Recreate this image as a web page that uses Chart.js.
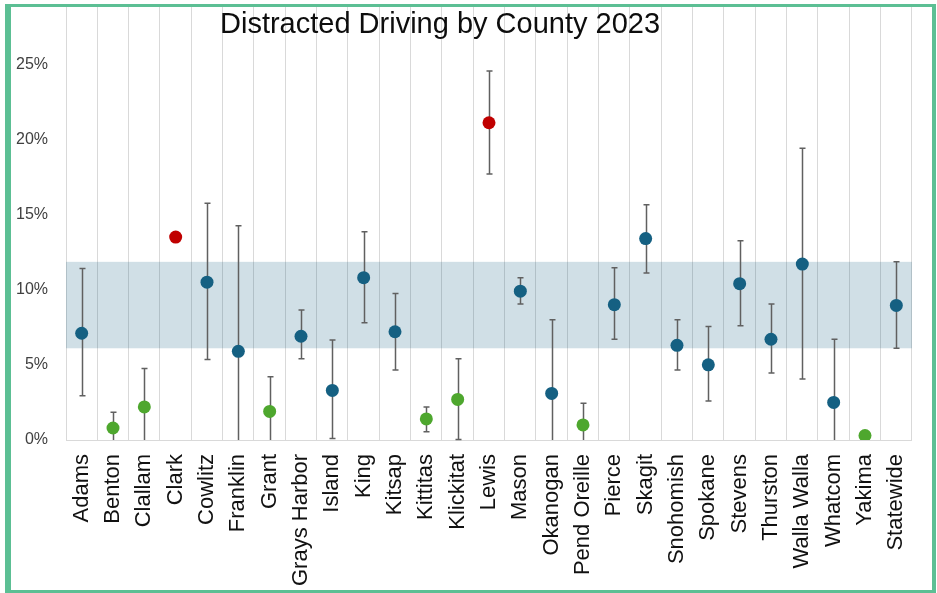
<!DOCTYPE html>
<html>
<head>
<meta charset="utf-8">
<script src="https://cdn.jsdelivr.net/npm/chart.js@4"></script>
<style>
  html, body { margin: 0; padding: 0; background: #fff; }
  #wrap { position: relative; width: 937px; height: 593px; }
  #frame {
    position: absolute; left: 5px; top: 4px; width: 931px; height: 589px;
    box-sizing: border-box; border-style: solid; border-color: #5CBF94;
    border-width: 3px 4px 3px 6px; pointer-events: none;
  }
</style>
</head>
<body>
<div id="wrap">
  <canvas id="chart" width="937" height="593"></canvas>
  <div id="frame"></div>
</div>
<script>
// Distracted driving rate (%) by county, with 95% confidence limits
const counties = ['Adams', 'Benton', 'Clallam', 'Clark', 'Cowlitz', 'Franklin', 'Grant',
  'Grays Harbor', 'Island', 'King', 'Kitsap', 'Kittitas', 'Klickitat', 'Lewis', 'Mason',
  'Okanogan', 'Pend Oreille', 'Pierce', 'Skagit', 'Snohomish', 'Spokane', 'Stevens',
  'Thurston', 'Walla Walla', 'Whatcom', 'Yakima', 'Statewide'];

const rates = [7.1, 0.8, 2.2, 13.5, 10.5, 5.9, 1.9, 6.9, 3.3, 10.8, 7.2, 1.4, 2.7, 21.1,
  9.9, 3.1, 1.0, 9.0, 13.4, 6.3, 5.0, 10.4, 6.7, 11.7, 2.5, 0.3, 8.95];

const lower = [2.95, 0, 0, 13.25, 5.35, 0, 0, 5.4, 0.1, 7.8, 4.65, 0.55, 0.03, 17.7,
  9.05, 0, 0, 6.7, 11.1, 4.65, 2.6, 7.6, 4.45, 4.05, 0, 0, 6.1];

const upper = [11.4, 1.85, 4.75, 13.75, 15.75, 14.25, 4.2, 8.65, 6.65, 13.85, 9.75, 2.2,
  5.4, 24.55, 10.8, 8.0, 2.45, 11.45, 15.65, 8.0, 7.55, 13.25, 9.05, 19.4, 6.7, 0.55, 11.85];

// comparison with the statewide rate
const status = ['avg', 'low', 'low', 'high', 'avg', 'avg', 'low', 'avg', 'avg', 'avg', 'avg',
  'low', 'low', 'high', 'avg', 'avg', 'low', 'avg', 'avg', 'avg', 'avg', 'avg', 'avg', 'avg',
  'avg', 'low', 'avg'];

const yTicks = [0, 5, 10, 15, 20, 25];

const palette = { avg: '#156082', low: '#4EA72E', high: '#C00000' };
const stateIdx = counties.indexOf('Statewide');

// statewide confidence band + whiskers, drawn under the points
const errorBars = {
  id: 'errorBars',
  beforeDatasetsDraw(chart) {
    const { ctx, chartArea, scales: { x, y } } = chart;
    const bandTop = y.getPixelForValue(upper[stateIdx]);
    const bandBot = y.getPixelForValue(lower[stateIdx]);
    ctx.save();
    ctx.fillStyle = 'rgba(21, 96, 130, 0.2)';
    ctx.fillRect(chartArea.left, bandTop, chartArea.right - chartArea.left, bandBot - bandTop);

    ctx.strokeStyle = '#606060';
    ctx.lineWidth = 1.5;
    counties.forEach((c, i) => {
      const px = Math.round(x.getPixelForValue(i)) + 0.5;
      const pHi = y.getPixelForValue(upper[i]);
      const pLo = y.getPixelForValue(lower[i]);
      ctx.beginPath();
      ctx.moveTo(px, pLo);
      ctx.lineTo(px, pHi);
      ctx.moveTo(px - 3, pHi);
      ctx.lineTo(px + 3, pHi);
      if (lower[i] > y.min) {
        ctx.moveTo(px - 3, pLo);
        ctx.lineTo(px + 3, pLo);
      }
      ctx.stroke();
    });
    ctx.restore();
  },
  afterDraw(chart) {
    const { ctx } = chart;
    ctx.save();
    ctx.font = '29px "Liberation Sans", Arial, sans-serif';
    ctx.fillStyle = '#0d0d0d';
    ctx.textBaseline = 'alphabetic';
    ctx.textAlign = 'left';
    ctx.fillText('Distracted Driving by County 2023', 220, 33);
    ctx.restore();
  }
};

new Chart(document.getElementById('chart'), {
  type: 'line',
  data: {
    labels: counties,
    datasets: [{
      data: rates,
      showLine: false,
      pointRadius: 6.5,
      pointHoverRadius: 6.5,
      pointBorderWidth: 0,
      pointBackgroundColor: status.map(s => palette[s]),
      pointBorderColor: status.map(s => palette[s])
    }]
  },
  options: {
    responsive: false,
    animation: false,
    layout: { padding: { top: 7, right: 15, left: 0, bottom: 0 } },
    plugins: { legend: { display: false }, tooltip: { enabled: false }, title: { display: false } },
    scales: {
      x: {
        type: 'category',
        offset: true,
        grid: { offset: true, color: '#D9D9D9', lineWidth: 1, drawTicks: false },
        border: { color: '#D9D9D9' },
        ticks: {
          autoSkip: false, minRotation: 90, maxRotation: 90, padding: 14,
          color: '#111',
          font: { family: '"Liberation Sans", Arial, sans-serif', size: 22 }
        },
        afterFit(s) { s.height = 153; }
      },
      y: {
        min: 0,
        max: 28.8,
        grid: { display: false, drawTicks: false },
        border: { display: false },
        afterBuildTicks(s) { s.ticks = yTicks.map(v => ({ value: v })); },
        ticks: {
          padding: 18,
          color: '#404040',
          font: { family: '"Liberation Sans", Arial, sans-serif', size: 16 },
          callback: v => v + '%'
        },
        afterFit(s) { s.width = 66; s.paddingTop = 0; s.paddingBottom = 0; }
      }
    }
  },
  plugins: [errorBars]
});
</script>
</body>
</html>
